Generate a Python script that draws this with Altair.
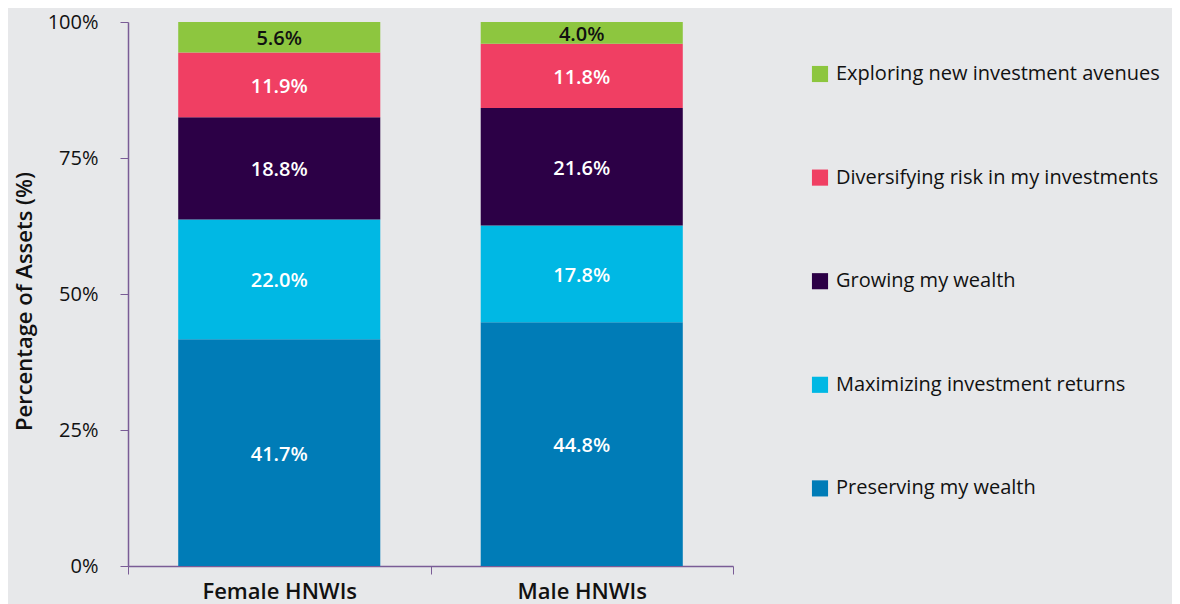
import altair as alt
import pandas as pd

groups = ["Female HNWIs", "Male HNWIs"]
categories = [
    "Preserving my wealth",
    "Maximizing investment returns",
    "Growing my wealth",
    "Diversifying risk in my investments",
    "Exploring new investment avenues",
]
colors = ["#007cb7", "#00b8e4", "#2c0046", "#f03f63", "#8dc63f"]
label_colors = ["#ffffff", "#ffffff", "#ffffff", "#ffffff", "#111111"]
female = [41.7, 22.0, 18.8, 11.9, 5.6]
male = [44.8, 17.8, 21.6, 11.8, 4.0]
y_ticks = [0, 25, 50, 75, 100]

rows = []
for g, vals in zip(groups, [female, male]):
    cum = 0.0
    for i, (c, v) in enumerate(zip(categories, vals)):
        rows.append({"group": g, "cat": c, "value": v, "rank": i,
                     "mid": cum + v / 2, "label": f"{v:.1f}%",
                     "lcolor": label_colors[i]})
        cum += v
df = pd.DataFrame(rows)

legend_order = categories[::-1]
legend_colors = colors[::-1]

FONT = "Open Sans"
AXIS_COLOR = "#7a5c96"

base = alt.Chart(df)

bars = base.mark_bar(width=alt.RelativeBandSize(0.668)).encode(
    x=alt.X("group:N", sort=groups, title=None,
            scale=alt.Scale(paddingInner=0, paddingOuter=0),
            axis=alt.Axis(labelAngle=0, labelFontSize=22, labelFontWeight=600,
                          labelColor="#111111", labelFont=FONT, tickBand="extent",
                          tickSize=8, tickColor=AXIS_COLOR, domainColor=AXIS_COLOR,
                          domainWidth=1.5, labelPadding=7)),
    y=alt.Y("value:Q", stack="zero", title="Percentage of Assets (%)",
            scale=alt.Scale(domain=[0, 100], nice=False),
            axis=alt.Axis(values=y_ticks, labelExpr="datum.value + '%'", grid=False,
                          tickSize=8, tickColor=AXIS_COLOR, domainColor=AXIS_COLOR,
                          domainWidth=1.5, labelFontSize=20, labelColor="#111111",
                          labelFont=FONT, labelPadding=22,
                          titleFontSize=22, titleFontWeight=600, titleFont=FONT,
                          titleColor="#111111", titleX=-104, titleY=279, titleAngle=-90,
                          titleAlign="center", titleBaseline="middle")),
    color=alt.Color("cat:N", scale=alt.Scale(domain=legend_order, range=legend_colors),
                    legend=alt.Legend(title=None, orient="none", legendX=682, legendY=42,
                                      symbolType="square", symbolSize=260,
                                      symbolStrokeWidth=0, labelFontSize=20,
                                      labelFont=FONT, labelColor="#111111",
                                      labelLimit=400, rowPadding=83.6, labelOffset=6)),
    order=alt.Order("rank:Q", sort="ascending"),
)

text = base.mark_text(fontSize=20, fontWeight=600, font=FONT, dy=2).encode(
    x=alt.X("group:N", sort=groups),
    y=alt.Y("mid:Q"),
    text="label:N",
    color=alt.Color("lcolor:N", scale=None),
)

chart = (bars + text).properties(
    width=605, height=544,
    autosize=alt.AutoSizeParams(type="none"),
    padding={"left": 120, "top": 14, "right": 439, "bottom": 40},
    background="#e7e8ea",
).configure_view(stroke=None)

chart.save("out.html", embed_options={"renderer": "svg", "actions": False})
